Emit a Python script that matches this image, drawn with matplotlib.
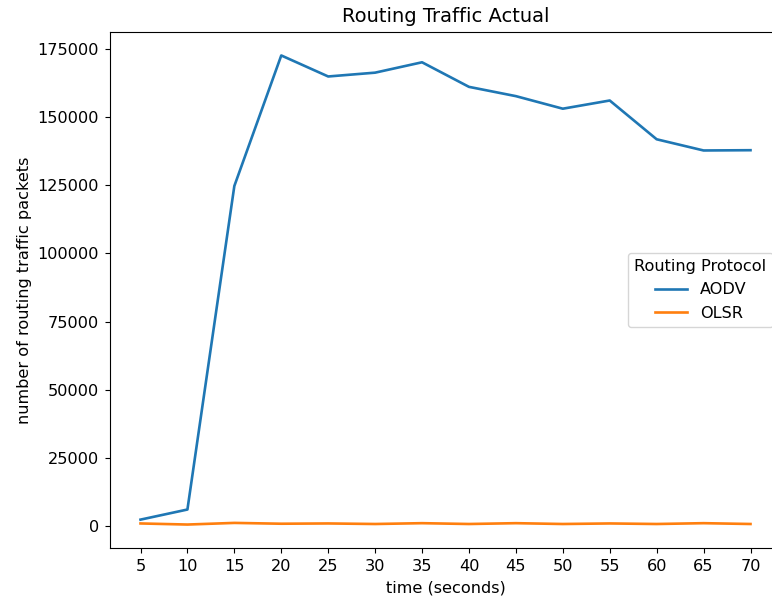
import numpy as np
import matplotlib
matplotlib.use("Agg")
import matplotlib.pyplot as plt

## donnees
temps = [5, 10, 15, 20, 25, 30, 35, 40, 45, 50, 55, 60, 65, 70]
aodv = [2500, 6200, 124700, 172500, 164800, 166200, 170000,
        161000, 157600, 153000, 156000, 141800, 137700, 137800]
olsr = [1100, 700, 1300, 1000, 1100, 900, 1200,
        900, 1200, 900, 1100, 900, 1200, 900]
protocoles = ["AODV", "OLSR"]

plt.rcParams['font.family'] = ['DejaVu Sans']
plt.rcParams['font.size'] = 11.6

fig = plt.figure(figsize=(7.72, 5.98), dpi=100)
## axes qui debordent a droite (image d'origine recadree)
ax = fig.add_axes([110/772, 50/598, 671/772, 516/598])

ax.plot(temps, aodv, color='#1f77b4', lw=1.9, label=protocoles[0])
ax.plot(temps, olsr, color='#ff7f0e', lw=1.9, label=protocoles[1])

ax.set_xticks(temps)
ax.set_yticks(np.arange(0, 175001, 25000))
ax.tick_params(pad=4.5)
ax.set_title("Routing Traffic Actual", fontsize=14, pad=7)
ax.set_xlabel("time (seconds)", labelpad=4.5)
ax.set_ylabel("number of routing traffic packets", labelpad=4)
ax.legend(title="Routing Protocol", loc='center right',
          title_fontsize=11.6)

fig.savefig("out.png", dpi=100)
